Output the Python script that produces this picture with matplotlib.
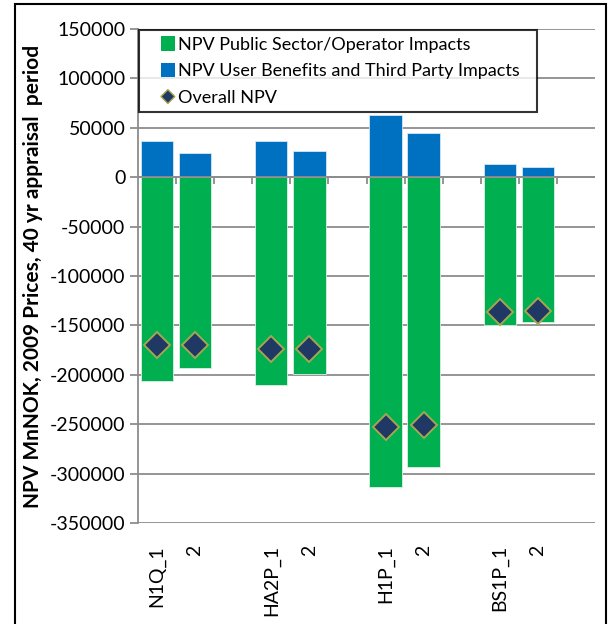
import matplotlib
matplotlib.use("Agg")
import matplotlib.pyplot as plt
from matplotlib.patches import Rectangle, Patch, RegularPolygon
from matplotlib.legend_handler import HandlerPatch

plt.rcParams['font.family'] = ['Lato', 'DejaVu Sans']

categories = ["N1Q_1", "2", "", "HA2P_1", "2", "", "H1P_1", "2", "", "BS1P_1", "2", ""]
public_sector = [-206000, -193000, -210000, -199000, -314000, -293000, -150000, -147000]
user_benefits = [37000, 25000, 37000, 26300, 62600, 44400, 13800, 10100]
overall_npv = [-170000, -170000, -174000, -174000, -253000, -250500, -136000, -135500]
yticks = list(range(-350000, 150001, 50000))

GREEN = "#00B050"
BLUE = "#0070C0"
NAVY = "#1F3864"
OLIVE = "#A5A553"
GRID = "#8C8C8C"

fig = plt.figure(figsize=(6.08, 6.24), dpi=100)
ax = fig.add_axes([138/608, 1-523/624, (595-138)/608, (523-29)/624])

pos = [i for i, c in enumerate(categories) if c]
w = 0.85
ax.bar(pos, public_sector, width=w, color=GREEN, edgecolor="#DDEFE4", linewidth=0.6, zorder=3)
ax.bar(pos, user_benefits, width=w, color=BLUE, edgecolor="#D6E6F4", linewidth=0.6, zorder=3)
ax.plot(pos, overall_npv, linestyle="none", marker="D", markersize=13,
        markerfacecolor=NAVY, markeredgecolor=OLIVE, markeredgewidth=1.4, zorder=5)

ax.set_xlim(-0.5, len(categories) - 0.5)
ax.set_ylim(-350000, 150000)
ax.set_yticks(yticks)
ax.set_yticklabels([str(v) for v in yticks], fontsize=14)
ax.yaxis.grid(True, color=GRID, linewidth=1.3, zorder=0)
ax.set_axisbelow(True)
ax.tick_params(axis='y', length=6, width=1.3, color=GRID, pad=3)

ax.set_xticks(range(len(categories)))
ax.set_xticklabels(categories, rotation=90, fontsize=14, va='top')
ax.tick_params(axis='x', length=0, pad=16)

for s in ['top', 'right', 'bottom']:
    ax.spines[s].set_visible(False)
ax.spines['left'].set_color(GRID)
ax.spines['left'].set_linewidth(1.3)

# category axis at zero with boundary tick marks
ax.axhline(0, color=GRID, linewidth=1.3, zorder=4)
bounds = [i + 0.5 for i in range(len(categories) - 1)]
ax.vlines(bounds, -7000, 0, color=GRID, linewidth=1.3, zorder=4)

ax.set_ylabel("NPV MnNOK, 2009 Prices, 40 yr appraisal  period", fontsize=15,
              fontweight='bold', labelpad=5)


def square_patch(legend, orig_handle, xdescent, ydescent, width, height, fontsize):
    s = 10.5
    return Rectangle((-xdescent + width - s, -ydescent + (height - s) / 2), s, s)


def diamond_patch(legend, orig_handle, xdescent, ydescent, width, height, fontsize):
    r = 5.0
    return RegularPolygon((-xdescent + width - 5.2, -ydescent + height / 2), 4,
                          radius=r, orientation=0)


h_green = Patch(facecolor=GREEN, edgecolor='none')
h_blue = Patch(facecolor=BLUE, edgecolor='none')
h_diam = Patch(facecolor=NAVY, edgecolor=OLIVE, linewidth=1.0)
labels = ["NPV Public Sector/Operator Impacts",
          "NPV User Benefits and Third Party Impacts",
          "Overall NPV"]
leg = fig.legend([h_green, h_blue, h_diam], labels, loc='upper left',
                 bbox_to_anchor=(139/608, 1-31/624, (537-139)/608, 0.001),
                 mode='expand', fontsize=13, frameon=True, fancybox=False,
                 handlelength=1.65, handleheight=0.8, handletextpad=0.17,
                 labelspacing=0.57, borderpad=0.35, borderaxespad=0,
                 handler_map={h_green: HandlerPatch(patch_func=square_patch),
                              h_blue: HandlerPatch(patch_func=square_patch),
                              h_diam: HandlerPatch(patch_func=diamond_patch)})
leg.get_frame().set_edgecolor('black')
leg.get_frame().set_linewidth(1.5)

fig.patches.append(Rectangle((15/608, -0.01), (606-15)/608, 1.01 - 4/624,
                             transform=fig.transFigure, fill=False,
                             edgecolor='black', linewidth=1.5))

fig.savefig("out.png", dpi=100)
